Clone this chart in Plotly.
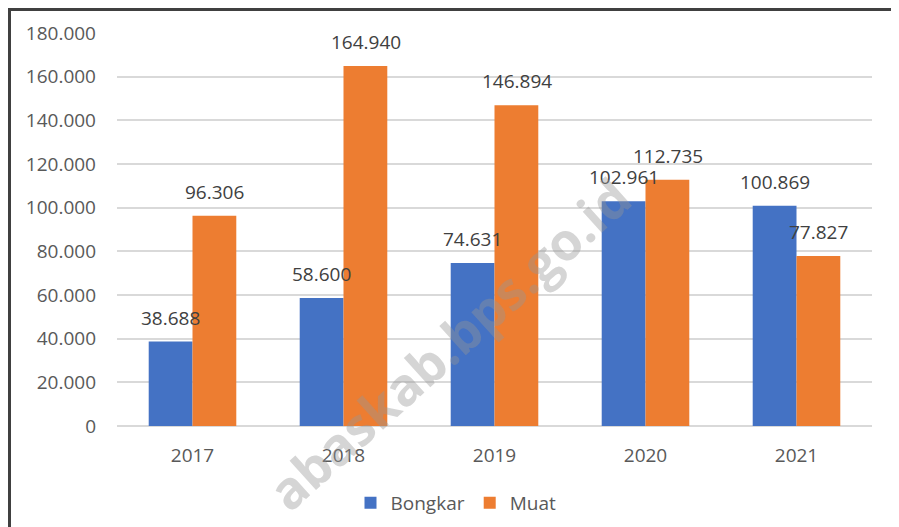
import plotly.graph_objects as go

years = ["2017", "2018", "2019", "2020", "2021"]
bongkar = [38688, 58600, 74631, 102961, 100869]
muat = [96306, 164940, 146894, 112735, 77827]
tick_vals = [0, 20000, 40000, 60000, 80000, 100000, 120000, 140000, 160000, 180000]
tick_text = ["0", "20.000", "40.000", "60.000", "80.000", "100.000", "120.000", "140.000", "160.000", "180.000"]

def fmt(v):
    return f"{v:,}".replace(",", ".")

FONT = "Open Sans"
# page body has an 8px margin; compensate so the figure lands where the reference is
OFF = 8
W, H = 899 - OFF, 527 - OFF
PL, PR, PT, PB = 117 - OFF, 872 - OFF, 33 - OFF, 426 - OFF   # plot area in figure pixels
pw, ph = PR - PL, PB - PT

def px(x):
    return (x - OFF - PL) / pw

def py(y):
    return (PB - (y - OFF)) / ph

fig = go.Figure()
fig.add_trace(go.Bar(name="Bongkar", x=years, y=bongkar, marker=dict(color="#4472C4", line=dict(width=0))))
fig.add_trace(go.Bar(name="Muat", x=years, y=muat, marker=dict(color="#ED7D31", line=dict(width=0))))

anns = []
for i, v in enumerate(bongkar):
    anns.append(dict(x=i, y=v, xref="x", yref="y", text=fmt(v), showarrow=False, xshift=-22, yshift=24,
                     yanchor="middle", font=dict(family=FONT, size=19, color="#404040")))
for i, v in enumerate(muat):
    anns.append(dict(x=i, y=v, xref="x", yref="y", text=fmt(v), showarrow=False, xshift=22, yshift=24,
                     yanchor="middle", font=dict(family=FONT, size=19, color="#404040")))
# watermark
anns.append(dict(xref="paper", yref="paper", x=px(448), y=py(343), xanchor="center", yanchor="middle",
                 text="<b>abaskab.bps.go.id</b>", showarrow=False, textangle=-42,
                 font=dict(family=FONT, size=52, color="rgba(150,150,150,0.40)")))

fig.update_layout(
    width=W, height=H,
    margin=dict(l=PL, r=W - PR, t=PT, b=H - PB, autoexpand=False),
    paper_bgcolor="white", plot_bgcolor="white",
    barmode="group", bargap=0.42, bargroupgap=0,
    font=dict(family=FONT, size=19, color="#595959"),
    showlegend=True,
    legend=dict(orientation="h", x=px(456), xanchor="center", y=py(503), yanchor="middle",
                font=dict(family=FONT, size=19, color="#595959"), itemsizing="constant"),
    annotations=anns,
    shapes=[dict(type="rect", xref="paper", yref="paper",
                 x0=-(PL - 1.5) / pw, x1=px(896), y0=py(560), y1=(ph + PT - 1.5) / ph,
                 line=dict(color="#404040", width=3), layer="above")],
)
fig.update_xaxes(type="category", range=[-0.5, 4.5], showgrid=False, showline=False, ticks="",
                 ticklabelstandoff=16, automargin=False,
                 tickfont=dict(family=FONT, size=19, color="#595959"))
fig.update_yaxes(range=[0, 180000], tickvals=tick_vals, ticktext=tick_text, showgrid=True,
                 gridcolor="#D9D9D9", gridwidth=1.5, zeroline=True, zerolinecolor="#D9D9D9", zerolinewidth=1.5,
                 showline=False, ticks="", ticklabelstandoff=20, automargin=False,
                 tickfont=dict(family=FONT, size=19, color="#595959"))

fig.write_html("out.html")
